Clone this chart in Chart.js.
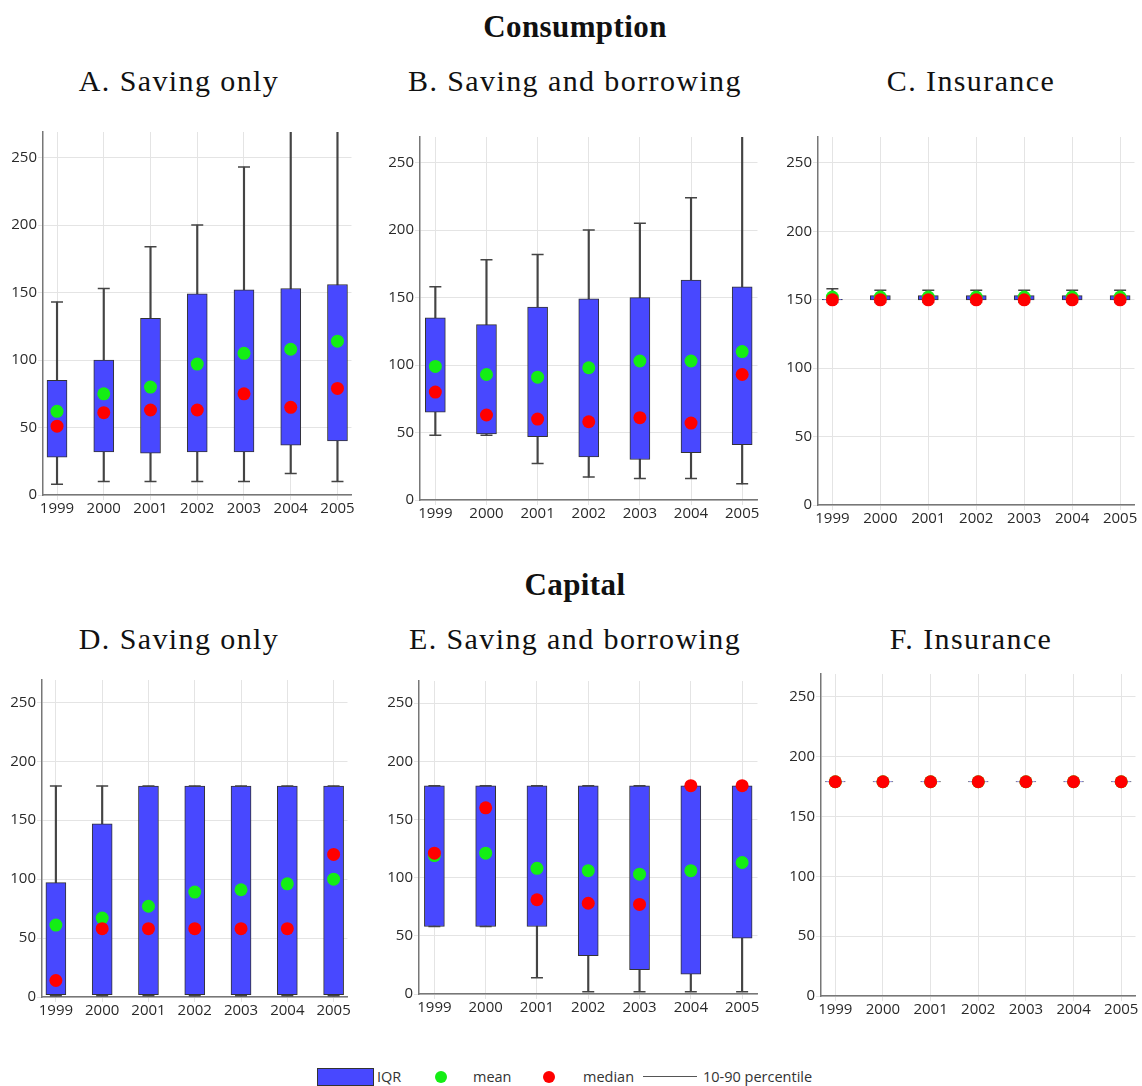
<!DOCTYPE html>
<html>
<head>
<meta charset="utf-8">
<title>Consumption and capital</title>
<script src="https://cdn.jsdelivr.net/npm/chart.js@4"></script>
<style>
  html, body { margin: 0; padding: 0; background: #fff; }
  body { width: 1142px; height: 1086px; position: relative; overflow: hidden; }
  .head { position: absolute; font-family: 'Liberation Serif', serif; color: #111; white-space: nowrap; line-height: 1; transform: translateX(-50%); }
  .head.main { font-weight: bold; font-size: 31px; letter-spacing: 0.4px; }
  .head.sub { font-size: 30px; letter-spacing: 1.4px; }
  canvas { position: absolute; }
  .legend { position: absolute; top: 1068px; left: 0; width: 1142px; height: 18px; font-family: 'Open Sans', sans-serif; font-size: 14.5px; color: #333; }
  .legend span { position: absolute; top: 0; line-height: 17px; }
  .legend .box { left: 317px; width: 55px; height: 16px; background: #4848ff; border: 1px solid #333; }
  .legend .dot { width: 12px; height: 12px; border-radius: 50%; top: 3px; }
  .legend .ln { left: 643px; width: 54px; height: 0; top: 8px; border-top: 1px solid #555; }
</style>
</head>
<body>

<div class="head main" style="left:575px; top:11px;">Consumption</div>
<div class="head sub" style="left:179px; top:66px;">A. Saving only</div>
<div class="head sub" style="left:575px; top:66px;">B. Saving and borrowing</div>
<div class="head sub" style="left:971px; top:66px;">C. Insurance</div>

<div class="head main" style="left:575px; top:569px;">Capital</div>
<div class="head sub" style="left:179px; top:624px;">D. Saving only</div>
<div class="head sub" style="left:575px; top:624px;">E. Saving and borrowing</div>
<div class="head sub" style="left:971px; top:624px;">F. Insurance</div>

<canvas id="chartA"></canvas>
<canvas id="chartB"></canvas>
<canvas id="chartC"></canvas>
<canvas id="chartD"></canvas>
<canvas id="chartE"></canvas>
<canvas id="chartF"></canvas>

<div class="legend">
  <span class="box"></span>
  <span style="left:377px;">IQR</span>
  <span class="dot" style="left:435px; background:#14ee14;"></span>
  <span style="left:473px;">mean</span>
  <span class="dot" style="left:543px; background:#ff0000;"></span>
  <span style="left:583px;">median</span>
  <span class="ln"></span>
  <span style="left:703px;">10-90 percentile</span>
</div>

<script>
// años
const years = [1999, 2000, 2001, 2002, 2003, 2004, 2005];
const yTicks = [0, 50, 100, 150, 200, 250];

// A. consumo, solo ahorro
const consSaveQ1 = [28, 32, 31, 32, 32, 37, 40];
const consSaveQ3 = [85, 100, 131, 149, 152, 153, 156];
const consSaveP10 = [8, 10, 10, 10, 10, 16, 10];
const consSaveP90 = [143, 153, 184, 200, 243, 290, 290];
const consSaveMean = [62, 75, 80, 97, 105, 108, 114];
const consSaveMedian = [51, 61, 63, 63, 75, 65, 79];

// B. consumo, ahorro y deuda
const consBorrowQ1 = [65, 49, 47, 32, 30, 35, 41];
const consBorrowQ3 = [135, 130, 143, 149, 150, 163, 158];
const consBorrowP10 = [48, 48, 27, 17, 16, 16, 12];
const consBorrowP90 = [158, 178, 182, 200, 205, 224, 290];
const consBorrowMean = [99, 93, 91, 98, 103, 103, 110];
const consBorrowMedian = [80, 63, 60, 58, 61, 57, 93];

// C. consumo, seguro
const consInsQ1 = [150, 150, 150, 150, 150, 150, 150];
const consInsQ3 = [150.4, 153, 153, 153, 153, 153, 153];
const consInsP10 = [148, 148, 148, 148, 148, 148, 148];
const consInsP90 = [158, 157, 157, 157, 157, 157, 157];
const consInsMean = [152, 152, 152, 152, 152, 152, 152];
const consInsMedian = [150, 150, 150, 150, 150, 150, 150];

// D. capital, solo ahorro
const capSaveQ1 = [2, 2, 2, 2, 2, 2, 2];
const capSaveQ3 = [97, 147, 179, 179, 179, 179, 179];
const capSaveP10 = [1, 1, 1, 1, 1, 1, 1];
const capSaveP90 = [179, 179, 179, 179, 179, 179, 179];
const capSaveMean = [61, 67, 77, 89, 91, 96, 100];
const capSaveMedian = [14, 58, 58, 58, 58, 58, 121];

// E. capital, ahorro y deuda
const capBorrowQ1 = [58, 58, 58, 33, 21, 17, 48];
const capBorrowQ3 = [179, 179, 179, 179, 179, 179, 179];
const capBorrowP10 = [58, 58, 14, 2, 2, 2, 2];
const capBorrowP90 = [179, 179, 179, 179, 179, 179, 179];
const capBorrowMean = [119, 121, 108, 106, 103, 106, 113];
const capBorrowMedian = [121, 160, 81, 78, 77, 179, 179];

// F. capital, seguro
const capInsQ1 = [178.8, 178.8, 178.8, 178.8, 178.8, 178.8, 178.8];
const capInsQ3 = [179.2, 179.2, 179.2, 179.2, 179.2, 179.2, 179.2];
const capInsP10 = [179, 179, 179, 179, 179, 179, 179];
const capInsP90 = [179, 179, 179, 179, 179, 179, 179];
const capInsMean = [179, 179, 179, 179, 179, 179, 179];
const capInsMedian = [179, 179, 179, 179, 179, 179, 179];

Chart.defaults.font.family = "'Open Sans', sans-serif";
Chart.defaults.color = '#2a2a2a';

const Y_AXIS_W = 43, X_AXIS_H = 26, PAD_TOP = 10, PAD_RIGHT = 5;

function pts(arr) {
    return years.map((x, i) => ({ x: x, y: arr[i] }));
}
function ranges(lo, hi) {
    return years.map((x, i) => ({ x: x, y: [lo[i], hi[i]] }));
}

// plot = area del gráfico en la página
function boxChart(id, plot, q1, q3, p10, p90, mean, median) {
    const cv = document.getElementById(id);
    cv.width = plot.r - plot.l + Y_AXIS_W + PAD_RIGHT;
    cv.height = plot.b - plot.t + PAD_TOP + X_AXIS_H;
    cv.style.left = (plot.l - Y_AXIS_W) + 'px';
    cv.style.top = (plot.t - PAD_TOP) + 'px';

    new Chart(cv.getContext('2d'), {
        type: 'bar',
        data: {
            datasets: [
                {
                    type: 'line', label: 'median', data: pts(median), showLine: false,
                    pointRadius: 6.5, pointBackgroundColor: '#ff0000', pointBorderWidth: 0, order: 0
                },
                {
                    type: 'line', label: 'mean', data: pts(mean), showLine: false,
                    pointRadius: 6.5, pointBackgroundColor: '#14ee14', pointBorderWidth: 0, order: 1
                },
                {
                    type: 'line', label: 'caps', data: pts(p10).concat(pts(p90)), showLine: false,
                    pointStyle: 'line', pointRadius: 6, pointBorderColor: '#444', pointBorderWidth: 1.5, order: 2
                },
                {
                    label: 'IQR', data: ranges(q1, q3), backgroundColor: '#4848ff',
                    borderColor: '#333', borderWidth: 1, borderSkipped: false,
                    barThickness: 20, grouped: false, clip: 0, order: 3
                },
                {
                    label: '10-90 percentile', data: ranges(p10, p90), backgroundColor: '#444',
                    borderWidth: 0, barThickness: 1.5, grouped: false, clip: 0, order: 4
                }
            ]
        },
        options: {
            responsive: false,
            devicePixelRatio: 1,
            animation: false,
            events: [],
            layout: { padding: { top: PAD_TOP, right: PAD_RIGHT, left: 0, bottom: 0 } },
            plugins: { legend: { display: false }, tooltip: { enabled: false } },
            scales: {
                x: {
                    type: 'linear', min: 1998.7, max: 2005.3, offset: false,
                    afterFit: s => { s.height = X_AXIS_H; },
                    grid: { offset: false, color: '#e4e4e4', tickLength: 5 },
                    border: { color: '#777', width: 1.5 },
                    ticks: {
                        stepSize: 1, includeBounds: false, autoSkip: false, maxRotation: 0, padding: 0,
                        font: { size: 15 }, callback: v => String(v)
                    }
                },
                y: {
                    min: 0, max: 269,
                    afterFit: s => { s.width = Y_AXIS_W; },
                    afterBuildTicks: s => { s.ticks = yTicks.map(v => ({ value: v })); },
                    grid: { color: '#e4e4e4', tickLength: 5 },
                    border: { color: '#777', width: 1.5 },
                    ticks: { padding: 1, font: { size: 15 } }
                }
            }
        }
    });
}

boxChart('chartA', { l: 43, t: 132, r: 354, b: 495 },
    consSaveQ1, consSaveQ3, consSaveP10, consSaveP90, consSaveMean, consSaveMedian);
boxChart('chartB', { l: 420, t: 137, r: 760, b: 500 },
    consBorrowQ1, consBorrowQ3, consBorrowP10, consBorrowP90, consBorrowMean, consBorrowMedian);
boxChart('chartC', { l: 818, t: 137, r: 1137, b: 505 },
    consInsQ1, consInsQ3, consInsP10, consInsP90, consInsMean, consInsMedian);
boxChart('chartD', { l: 42, t: 680, r: 350, b: 997 },
    capSaveQ1, capSaveQ3, capSaveP10, capSaveP90, capSaveMean, capSaveMedian);
boxChart('chartE', { l: 419, t: 681, r: 760, b: 994 },
    capBorrowQ1, capBorrowQ3, capBorrowP10, capBorrowP90, capBorrowMean, capBorrowMedian);
boxChart('chartF', { l: 821, t: 674, r: 1138, b: 996 },
    capInsQ1, capInsQ3, capInsP10, capInsP90, capInsMean, capInsMedian);
</script>
</body>
</html>
